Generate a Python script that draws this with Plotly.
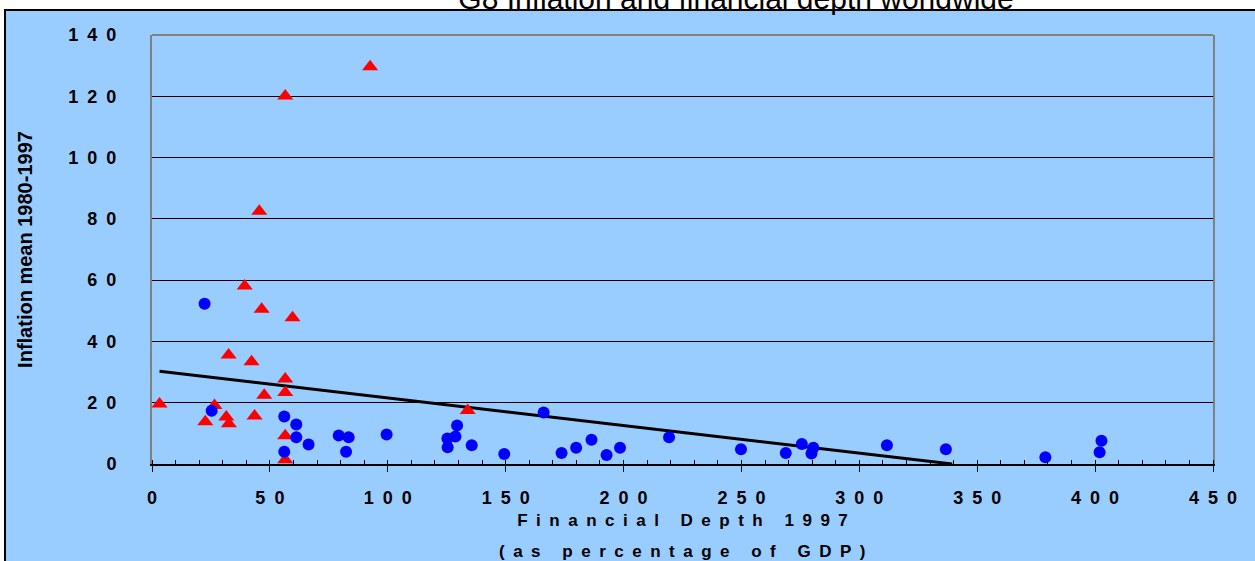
import plotly.graph_objects as go

# Countries with high inflation (red triangles)
fd_red = [92.5, 56.5, 45.5, 39.3, 46.5, 59.6, 32.5, 42.2, 56.5, 56.5,
          47.6, 3.2, 26.5, 22.6, 31.5, 32.6, 43.5, 56.5, 56.5, 133.9]
infl_red = [129.6, 120.1, 82.5, 58.1, 50.5, 47.7, 35.6, 33.4, 27.7, 23.3,
            22.4, 19.6, 19.1, 13.8, 15.3, 13.1, 15.7, 9.2, 1.4, 17.5]

# Other countries (blue dots)
fd_blue = [22.3, 25.3, 56.1, 61.2, 61.2, 66.4, 56.1, 79.2, 83.4, 82.3,
           99.5, 129.4, 128.7, 125.3, 125.4, 135.6, 149.4, 166.1, 173.7, 179.9,
           186.4, 192.8, 198.5, 219.3, 249.8, 268.8, 275.6, 280.5, 279.7, 311.7,
           336.7, 378.9, 402.7, 401.9]
infl_blue = [52.3, 17.4, 15.5, 12.9, 8.7, 6.4, 4.0, 9.3, 8.7, 4.0,
             9.6, 12.6, 9.0, 8.3, 5.5, 6.1, 3.3, 16.8, 3.6, 5.3,
             7.9, 2.9, 5.3, 8.7, 4.8, 3.6, 6.5, 5.3, 3.4, 6.1,
             4.8, 2.2, 7.6, 3.8]

# Linear trend line end points
trend_x = [3.2, 339.4]
trend_y = [30.3, 0.0]

x_ticks = [0, 50, 100, 150, 200, 250, 300, 350, 400, 450]
y_ticks = [0, 20, 40, 60, 80, 100, 120, 140]

title_text = "G8 Inflation and financial depth worldwide"
x_title_1 = "Financial Depth 1997"
x_title_2 = "(as percentage of GDP)"
y_title = "Inflation mean 1980-1997"


def spaced(s):
    return "\u2002".join(list(s))


BG = "#99CCFF"
FONT = "Arial, Liberation Sans, sans-serif"

fig = go.Figure()

fig.add_trace(go.Scatter(
    x=trend_x, y=trend_y, mode="lines",
    line=dict(color="black", width=3), hoverinfo="skip", showlegend=False))

fig.add_trace(go.Scatter(
    x=fd_red, y=infl_red, mode="markers",
    marker=dict(symbol="triangle-up", size=14, color="#FF0000",
                line=dict(width=0)),
    showlegend=False, name="High inflation"))

fig.add_trace(go.Scatter(
    x=fd_blue, y=infl_blue, mode="markers",
    marker=dict(symbol="circle", size=12, color="#0000FF",
                line=dict(width=0)),
    showlegend=False, name="Other"))

L, R, T, B = 152, 42, 35, 97
W, H = 1255, 561
pw, ph = W - L - R, H - T - B

fig.update_layout(
    width=W, height=H,
    margin=dict(l=L, r=R, t=T, b=B, autoexpand=False),
    paper_bgcolor="white",
    plot_bgcolor=BG,
    font=dict(family=FONT, color="black"),
    title=dict(text=title_text, x=736 / W, xanchor="center",
               yref="container", y=1 - 9 / H, yanchor="bottom",
               font=dict(family=FONT, size=30, color="black")),
    xaxis=dict(
        range=[0, 450], tickmode="array", tickvals=x_ticks,
        ticktext=[spaced(str(v)) for v in x_ticks],
        ticks="outside", ticklen=6, tickwidth=1, tickcolor="black",
        ticklabelstandoff=10,
        minor=dict(ticks="inside", dtick=10, tick0=0, ticklen=4,
                   tickwidth=1, tickcolor="black", showgrid=False),
        showline=True, linecolor="black", linewidth=2,
        showgrid=False, zeroline=False,
        tickfont=dict(family=FONT, size=18, color="black", weight="bold"),
        title=dict(text=spaced(x_title_1), standoff=8,
                   font=dict(family=FONT, size=17, color="black",
                             weight="bold")),
        automargin=False,
    ),
    yaxis=dict(
        range=[0, 140], tickmode="array", tickvals=y_ticks,
        ticktext=[spaced(str(v)) for v in y_ticks],
        ticks="", ticklabelstandoff=30,
        showline=True, linecolor="#808080", linewidth=2, mirror=True,
        showgrid=True, gridcolor="black", gridwidth=1,
        zeroline=False,
        tickfont=dict(family=FONT, size=18, color="black", weight="bold"),
        title=dict(text=y_title, standoff=30,
                   font=dict(family=FONT, size=20, color="black",
                             weight="bold")),
        automargin=False,
    ),
    shapes=[
        dict(type="rect", xref="paper", yref="paper",
             x0=(5 - L) / pw, x1=1.3, y0=-0.5, y1=(H - B - 10) / ph,
             fillcolor=BG, line=dict(color="black", width=2), layer="below"),
        dict(type="line", xref="paper", yref="paper",
             x0=0, x1=1, y0=1, y1=1,
             line=dict(color="#808080", width=2), layer="above"),
    ],
    annotations=[
        dict(text=spaced(x_title_2), xref="paper", yref="paper",
             x=0.5, xanchor="center", y=(H - B - 551.5) / ph, yanchor="middle",
             showarrow=False,
             font=dict(family=FONT, size=17, color="black", weight="bold")),
    ],
)

fig.write_html("out.html",
               config={"displayModeBar": False},
               post_script="document.body.style.margin='0';"
                           "document.body.style.overflow='hidden';")
